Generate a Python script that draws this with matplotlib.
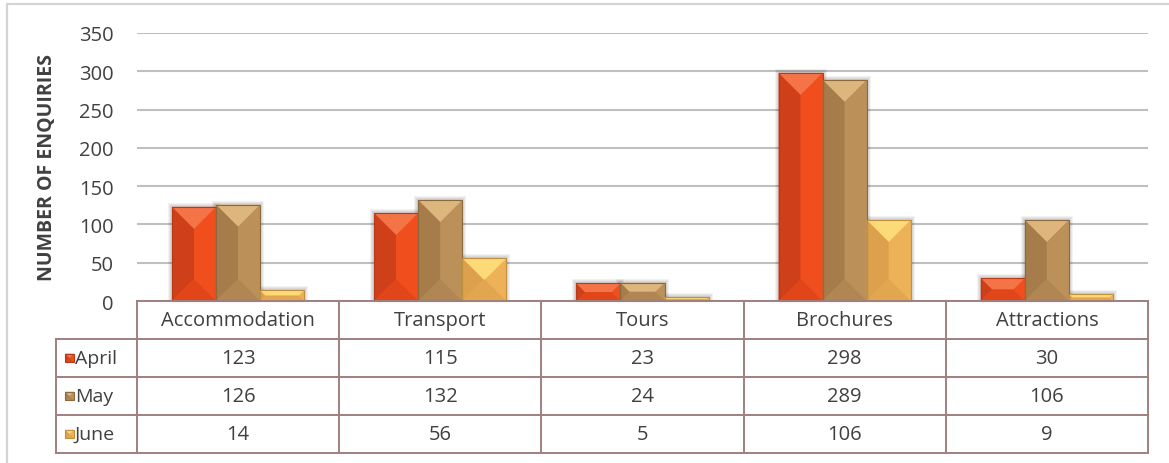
import matplotlib.pyplot as plt
from matplotlib.patches import Polygon
from matplotlib.lines import Line2D

plt.rcParams['font.family'] = ['Open Sans', 'DejaVu Sans']

# enquiries per category and month
categories = ['Accommodation', 'Transport', 'Tours', 'Brochures', 'Attractions']
months = ['April', 'May', 'June']
april = [123, 115, 23, 298, 30]
may = [126, 132, 24, 289, 106]
june = [14, 56, 5, 106, 9]
y_ticks = [0, 50, 100, 150, 200, 250, 300, 350]

series = [april, may, june]

# shades for each bevelled bar: top, left, right, bottom, edge
shades = {
    'April': dict(top='#F47448', left='#CF3F19', right='#F04E1D', bottom='#E1461A', edge='#B83A16'),
    'May': dict(top='#DDB67E', left='#A57C4A', right='#BC9059', bottom='#B08653', edge='#8C6A3E'),
    'June': dict(top='#FCDA78', left='#DDA04C', right='#EDB157', bottom='#E3A650', edge='#C2913F'),
}

TEXT = '#404040'
GRID = '#BFBFBF'
TABLE = '#A07F7F'
FS = 14.5

W, H = 1169, 464
fig = plt.figure(figsize=(W / 100, H / 100), dpi=100)

# outer chart frame (top and left edges inside the canvas)
fig.add_artist(Line2D([7 / W, 7 / W, 1], [0, 1 - 5 / H, 1 - 5 / H],
                      transform=fig.transFigure, color='#D4D4D4', lw=1.6))


def bevel(ax, x0, x1, y0, y1, sh, shadow=True):
    to_px = ax.transData.transform
    inv = ax.transData.inverted().transform
    (ax0, ay0), (ax1, ay1) = to_px([(x0, y0), (x1, y1)])
    l, r = min(ax0, ax1), max(ax0, ax1)
    b, t = min(ay0, ay1), max(ay0, ay1)
    d = min((r - l) / 2, (t - b) / 2, 22)

    def poly(pts, color, z, alpha=1.0):
        ax.add_patch(Polygon(inv(pts), closed=True, facecolor=color, edgecolor='none',
                             alpha=alpha, zorder=z, clip_on=False))

    if shadow:
        for g in (4, 3, 2, 1):
            poly([(l - g, b), (l - g, t + g), (r + g, t + g), (r + g, b)], '#000000', 1.5, 0.05)
    poly([(l, b), (l, t), (r, t), (r, b)], sh['right'], 2)
    poly([(l, b), (l, t), (l + d, t - d), (l + d, b + d)], sh['left'], 3)
    poly([(r, b), (r, t), (r - d, t - d), (r - d, b + d)], sh['right'], 3)
    poly([(l, t), (r, t), (r - d, t - d), (l + d, t - d)], sh['top'], 3)
    poly([(l, b), (r, b), (r - d, b + d), (l + d, b + d)], sh['bottom'], 3)
    ax.add_patch(Polygon(inv([(l, b), (l, t), (r, t), (r, b)]), closed=True, facecolor='none',
                         edgecolor=sh['edge'], lw=0.8, zorder=4, clip_on=False))


# main plot area
ax = fig.add_axes([137 / W, 162 / H, (1148 - 137) / W, 268 / H])
ax.set_xlim(-0.5, len(categories) - 0.5)
ax.set_ylim(0, 350)
ax.set_yticks(y_ticks)
ax.set_xticks([])
ax.tick_params(axis='y', length=0, pad=17, labelsize=FS, labelcolor=TEXT)
ax.grid(axis='y', color=GRID, lw=1.5)
ax.set_axisbelow(True)
for s in ax.spines.values():
    s.set_visible(False)
ax.set_ylabel('NUMBER OF ENQUIRIES', fontsize=14, fontweight='bold', color=TEXT)
ax.yaxis.set_label_coords(-0.079, 0.5)

bar_w = 0.218
for j, (name, vals) in enumerate(zip(months, series)):
    for i, v in enumerate(vals):
        xc = i + (j - 1) * bar_w
        bevel(ax, xc - bar_w / 2, xc + bar_w / 2, 0, v, shades[name])

# data table under the chart
px_per_unit = (1148 - 137) / len(categories)
tx0 = -0.5 - (137 - 56) / px_per_unit
tab = fig.add_axes([56 / W, 10 / H, (1148 - 56) / W, 152 / H])
tab.set_xlim(tx0, len(categories) - 0.5)
tab.set_ylim(4, 0)
tab.axis('off')

lk = dict(color=TABLE, lw=1.4, clip_on=False, solid_capstyle='projecting')
tab.plot([-0.5, len(categories) - 0.5], [0, 0], **lk)
for r in range(1, 5):
    tab.plot([tx0, len(categories) - 0.5], [r, r], **lk)
tab.plot([tx0, tx0], [1, 4], **lk)
for c in range(len(categories) + 1):
    tab.plot([c - 0.5, c - 0.5], [0, 4], **lk)

for i, cat in enumerate(categories):
    tab.text(i, 0.5, cat, ha='center', va='center', fontsize=FS, color=TEXT)
for j, (name, vals) in enumerate(zip(months, series)):
    row = j + 1.5
    for i, v in enumerate(vals):
        tab.text(i, row, str(v), ha='center', va='center', fontsize=FS, color=TEXT)
    k0 = tx0 + (65 - 56) / px_per_unit
    k1 = tx0 + (74 - 56) / px_per_unit
    bevel(tab, k0, k1, row - 0.115, row + 0.115, shades[name], shadow=False)
    tab.text(tx0 + (75 - 56) / px_per_unit, row, name, ha='left', va='center',
             fontsize=FS - 0.5, color=TEXT)

fig.savefig('out.png', dpi=100)
